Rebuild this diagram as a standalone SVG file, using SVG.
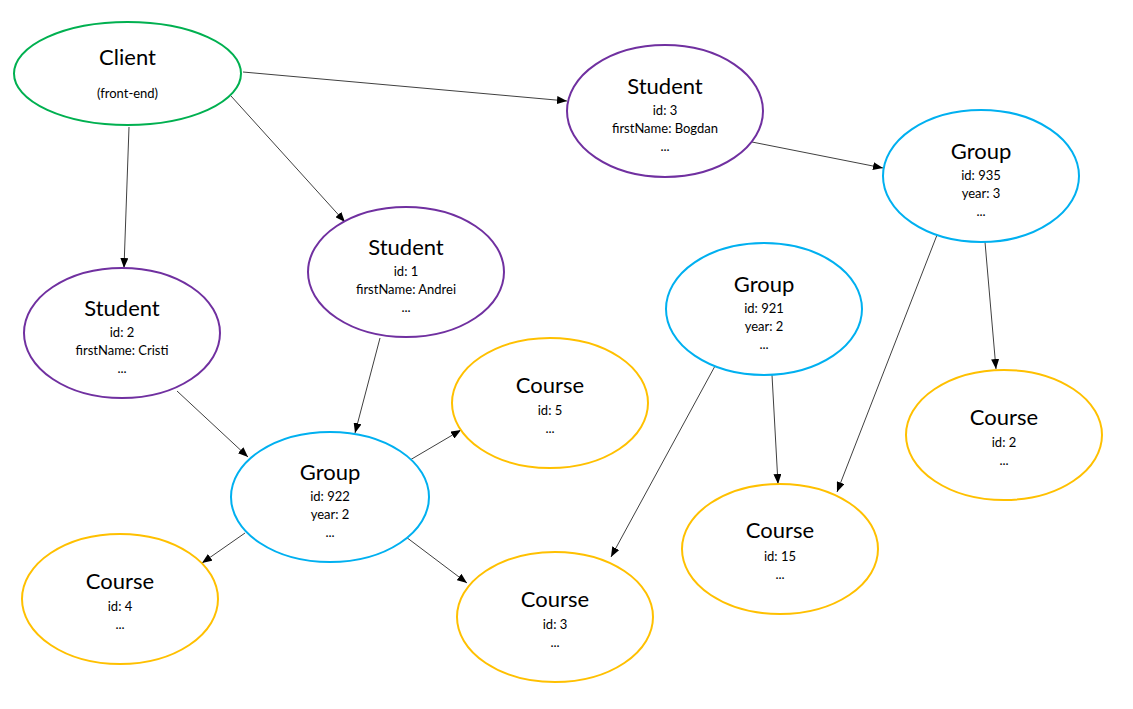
<svg xmlns="http://www.w3.org/2000/svg" width="1133" height="709" viewBox="0 0 1133 709">
<style>
  .n { fill: #ffffff; stroke-width: 2; }
  .client { stroke: #00b050; }
  .student { stroke: #7030a0; }
  .group { stroke: #00b0f0; }
  .course { stroke: #ffc000; }
  text { font-family: Lato, "Open Sans", sans-serif; fill: #000000; text-anchor: middle; dominant-baseline: central; }
  .t { font-size: 22px; }
  .d { font-size: 13px; }
  .edge { stroke: #404040; stroke-width: 1; fill: none; marker-end: url(#arr); }
</style>
<defs>
  <marker id="arr" viewBox="0 0 10 8" refX="10" refY="4" markerWidth="10" markerHeight="8" markerUnits="userSpaceOnUse" orient="auto">
    <path d="M0,0 L10,4 L0,8 Z" fill="#000000"/>
  </marker>
</defs>
<rect width="1133" height="709" fill="#ffffff"/>
<g id="connectors">
  <line class="edge" x1="243" y1="72" x2="567" y2="101"/>
  <line class="edge" x1="231" y1="96" x2="345" y2="222"/>
  <line class="edge" x1="129" y1="127" x2="124" y2="268"/>
  <line class="edge" x1="752" y1="142" x2="883" y2="168"/>
  <line class="edge" x1="177" y1="391" x2="248" y2="457"/>
  <line class="edge" x1="380" y1="338" x2="355" y2="433"/>
  <line class="edge" x1="410" y1="460" x2="461" y2="430"/>
  <line class="edge" x1="245" y1="533" x2="202" y2="563"/>
  <line class="edge" x1="406" y1="537" x2="467" y2="583"/>
  <line class="edge" x1="715" y1="366" x2="611" y2="557"/>
  <line class="edge" x1="772" y1="375" x2="778" y2="484"/>
  <line class="edge" x1="937" y1="235" x2="837" y2="492"/>
  <line class="edge" x1="985" y1="242" x2="996" y2="369"/>
</g>
<g id="client">
  <ellipse class="n client" cx="127.5" cy="73.5" rx="113.5" ry="51.5"/>
  <text class="t" x="127.5" y="56.5">Client</text>
  <text class="d" x="127.5" y="92.5">(front-end)</text>
</g>
<g id="student3">
  <ellipse class="n student" cx="665" cy="111" rx="98" ry="66"/>
  <text class="t" x="665" y="85.5">Student</text>
  <text class="d" x="665" y="109.5">id: 3</text>
  <text class="d" x="665" y="127.5">firstName: Bogdan</text>
  <text class="d" x="665" y="145.5">...</text>
</g>
<g id="group935">
  <ellipse class="n group" cx="981" cy="176" rx="98" ry="66"/>
  <text class="t" x="981" y="150.5">Group</text>
  <text class="d" x="981" y="174.5">id: 935</text>
  <text class="d" x="981" y="192.5">year: 3</text>
  <text class="d" x="981" y="210.5">...</text>
</g>
<g id="student1">
  <ellipse class="n student" cx="406" cy="272" rx="98" ry="65"/>
  <text class="t" x="406" y="246.5">Student</text>
  <text class="d" x="406" y="270.5">id: 1</text>
  <text class="d" x="406" y="288.5">firstName: Andrei</text>
  <text class="d" x="406" y="306.5">...</text>
</g>
<g id="student2">
  <ellipse class="n student" cx="122" cy="333" rx="98" ry="65"/>
  <text class="t" x="122" y="307.5">Student</text>
  <text class="d" x="122" y="331.5">id: 2</text>
  <text class="d" x="122" y="349.5">firstName: Cristi</text>
  <text class="d" x="122" y="367.5">...</text>
</g>
<g id="group921">
  <ellipse class="n group" cx="764" cy="309" rx="98" ry="66"/>
  <text class="t" x="764" y="283.5">Group</text>
  <text class="d" x="764" y="307.5">id: 921</text>
  <text class="d" x="764" y="325.5">year: 2</text>
  <text class="d" x="764" y="343.5">...</text>
</g>
<g id="group922">
  <ellipse class="n group" cx="330" cy="497" rx="99" ry="65"/>
  <text class="t" x="330" y="471.5">Group</text>
  <text class="d" x="330" y="495.5">id: 922</text>
  <text class="d" x="330" y="513.5">year: 2</text>
  <text class="d" x="330" y="531.5">...</text>
</g>
<g id="course5">
  <ellipse class="n course" cx="550" cy="403" rx="98" ry="65"/>
  <text class="t" x="550" y="384.5">Course</text>
  <text class="d" x="550" y="409.5">id: 5</text>
  <text class="d" x="550" y="427.5">...</text>
</g>
<g id="course2">
  <ellipse class="n course" cx="1004" cy="435" rx="98" ry="65"/>
  <text class="t" x="1004" y="416.5">Course</text>
  <text class="d" x="1004" y="441.5">id: 2</text>
  <text class="d" x="1004" y="459.5">...</text>
</g>
<g id="course15">
  <ellipse class="n course" cx="780" cy="549" rx="98" ry="65"/>
  <text class="t" x="780" y="529.5">Course</text>
  <text class="d" x="780" y="555.5">id: 15</text>
  <text class="d" x="780" y="573.5">...</text>
</g>
<g id="course4">
  <ellipse class="n course" cx="120" cy="599" rx="98" ry="65"/>
  <text class="t" x="120" y="580.5">Course</text>
  <text class="d" x="120" y="605.5">id: 4</text>
  <text class="d" x="120" y="623.5">...</text>
</g>
<g id="course3">
  <ellipse class="n course" cx="555" cy="617" rx="98" ry="65"/>
  <text class="t" x="555" y="598.5">Course</text>
  <text class="d" x="555" y="623.5">id: 3</text>
  <text class="d" x="555" y="641.5">...</text>
</g>
</svg>
